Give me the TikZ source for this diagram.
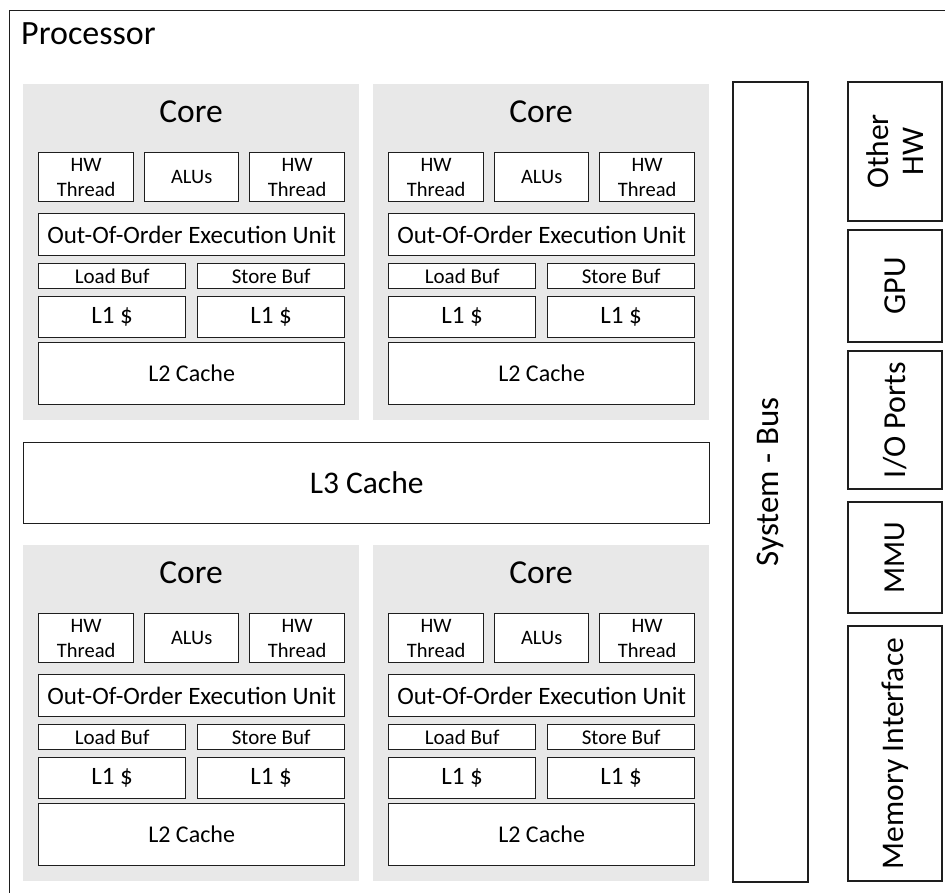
\documentclass[tikz,border=0pt]{standalone}
\usepackage{fontspec}
\setmainfont{Carlito}
\definecolor{coregray}{RGB}{232,232,232}
\definecolor{edge}{RGB}{30,30,30}
\tikzset{
  box/.style={draw=edge, line width=1.3pt, fill=white, inner sep=0pt, anchor=north west, align=center},
  corebg/.style={fill=coregray, draw=none, inner sep=0pt, anchor=north west, minimum width=336pt, minimum height=336pt},
  vbox/.style={draw=edge, line width=1.3pt, fill=white, inner sep=0pt, anchor=center, rotate=90, align=center, font=\fontsize{32}{35}\selectfont},
}
\newcommand{\mycore}[3]{%
  \node[corebg] (#3) at (#1,#2) {};
  \node[font=\fontsize{33.5}{38}\selectfont] (#3lbl) at ({#1+168},{#2+28}) {Core};
  \node[box, minimum width=95pt, minimum height=49pt, font=\fontsize{20.5}{25}\selectfont] (#3hwa) at ({#1+15},{#2+68}) {HW\\Thread};
  \node[box, minimum width=94pt, minimum height=49pt, font=\fontsize{20.5}{25}\selectfont] (#3alu) at ({#1+121},{#2+68}) {ALUs};
  \node[box, minimum width=95pt, minimum height=49pt, font=\fontsize{20.5}{25}\selectfont] (#3hwb) at ({#1+226},{#2+68}) {HW\\Thread};
  \node[box, minimum width=306pt, minimum height=42pt, font=\fontsize{25}{30}\selectfont] (#3ooo) at ({#1+15},{#2+129}) {Out-Of-Order Execution Unit};
  \node[box, minimum width=147pt, minimum height=25pt, font=\fontsize{21}{24}\selectfont] (#3ld) at ({#1+15},{#2+179}) {Load Buf};
  \node[box, minimum width=147pt, minimum height=25pt, font=\fontsize{21}{24}\selectfont] (#3st) at ({#1+174},{#2+179}) {Store Buf};
  \node[box, minimum width=147pt, minimum height=41pt, font=\fontsize{25}{29}\selectfont] (#3la) at ({#1+15},{#2+212}) {L1 \$};
  \node[box, minimum width=147pt, minimum height=41pt, font=\fontsize{25}{29}\selectfont] (#3lb) at ({#1+174},{#2+212}) {L1 \$};
  \node[box, minimum width=306pt, minimum height=62pt, font=\fontsize{24}{28}\selectfont] (#3ltwo) at ({#1+15},{#2+258}) {L2 Cache};
}
\begin{document}
\begin{tikzpicture}[x=1pt,y=-1pt]
\useasboundingbox (0,0) rectangle (945,893);
\begin{scope}
\clip (0,0) rectangle (945,893);
\node[draw=edge, line width=1.3pt, fill=white, inner sep=0pt, anchor=north west, minimum width=960pt, minimum height=900pt] (proc) at (9,10) {};
\end{scope}
\node[anchor=base west, inner sep=0pt, font=\fontsize{34}{38}\selectfont] (proclbl) at (21,45) {Processor};
\mycore{23}{84}{ca}
\mycore{373}{84}{cb}
\mycore{23}{545}{cc}
\mycore{373}{545}{cd}
\node[box, minimum width=686pt, minimum height=81pt, font=\fontsize{31.5}{36}\selectfont] (lthree) at (23,442) {L3 Cache};
\node[vbox, minimum width=800pt, minimum height=75pt, font=\fontsize{33}{36}\selectfont] (bus) at (770.5,482) {System - Bus};
\node[vbox, minimum width=139pt, minimum height=94pt, font=\fontsize{31.5}{35}\selectfont] (other) at (895,151.5) {Other\\HW};
\node[vbox, minimum width=112pt, minimum height=94pt] (gpu) at (895,286) {GPU};
\node[vbox, minimum width=138pt, minimum height=94pt] (io) at (895,420) {I/O Ports};
\node[vbox, minimum width=111pt, minimum height=94pt, font=\fontsize{30.5}{34}\selectfont] (mmu) at (895,557.5) {MMU};
\node[vbox, minimum width=255pt, minimum height=94pt, font=\fontsize{31.5}{35}\selectfont] (mem) at (895,753.5) {Memory Interface};
\end{tikzpicture}
\end{document}
